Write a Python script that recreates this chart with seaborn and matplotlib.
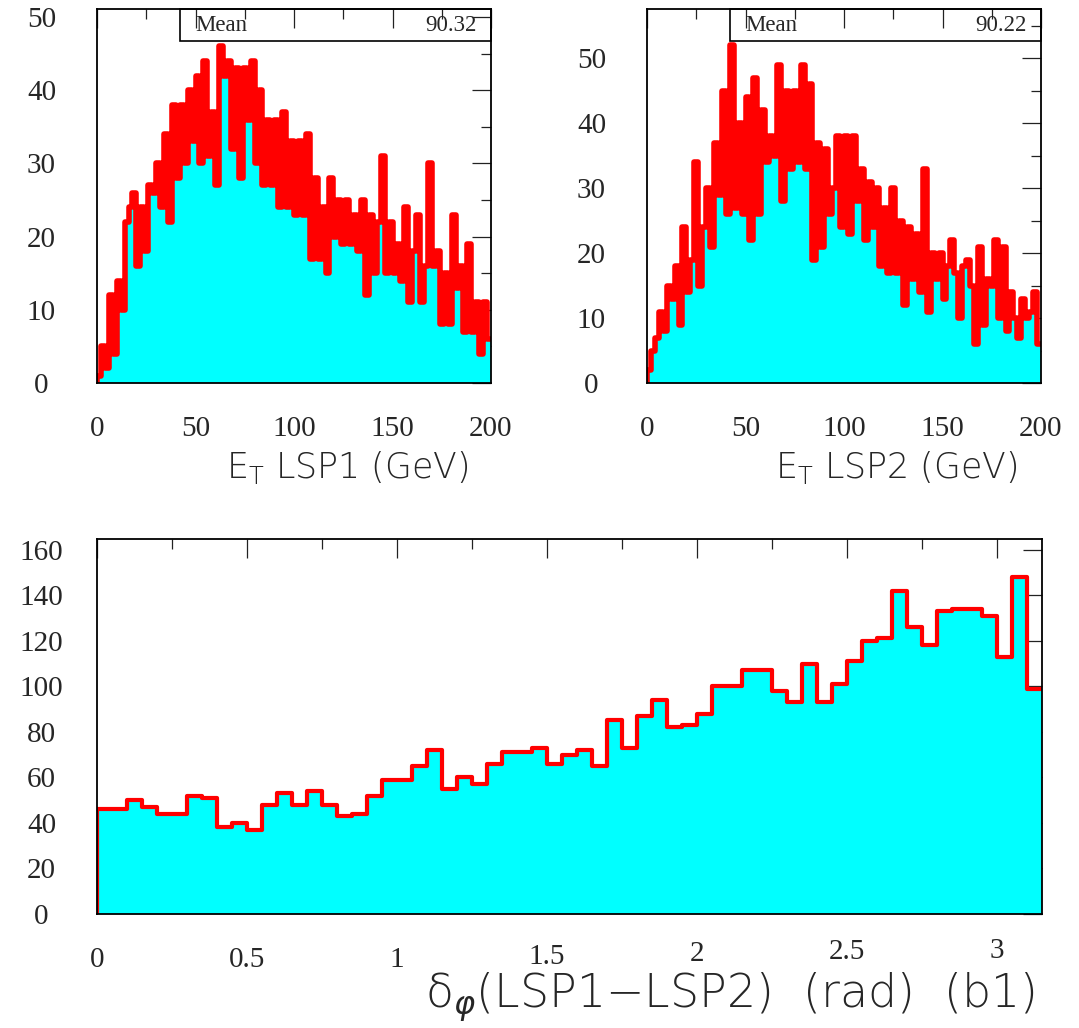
import matplotlib
matplotlib.use('Agg')
import matplotlib.pyplot as plt
import seaborn as sns
import numpy as np
import pandas as pd
from matplotlib.patches import Rectangle
from matplotlib.ticker import MultipleLocator

# counts per 2 GeV bin, 0-200 GeV
et_lsp1 = [1, 5, 2, 12, 4, 14, 10, 22, 24, 26,
           16, 24, 18, 27, 26, 30, 24, 34, 22, 38,
           28, 38, 30, 40, 33, 42, 30, 44, 31, 37,
           27, 46, 42, 44, 32, 43, 28, 43, 36, 44,
           30, 40, 27, 36, 27, 36, 24, 37, 24, 33,
           23, 33, 23, 34, 17, 28, 17, 24, 15, 28,
           20, 25, 19, 25, 19, 23, 18, 25, 12, 23,
           15, 22, 31, 15, 22, 15, 19, 14, 24, 11,
           18, 23, 11, 16, 30, 16, 18, 8, 15, 8,
           23, 13, 16, 7, 19, 7, 11, 4, 11, 6]
et_lsp2 = [2, 5, 7, 11, 8, 15, 13, 18, 9, 24,
           14, 19, 34, 15, 24, 30, 21, 37, 29, 45,
           26, 52, 27, 40, 26, 44, 22, 47, 26, 42,
           34, 38, 35, 49, 28, 45, 33, 45, 34, 49,
           33, 46, 19, 37, 21, 36, 26, 30, 38, 24,
           38, 23, 38, 28, 33, 22, 31, 24, 30, 18,
           27, 17, 30, 17, 25, 12, 24, 16, 23, 14,
           33, 11, 20, 16, 20, 13, 18, 22, 17, 10,
           18, 19, 15, 6, 21, 9, 16, 15, 22, 10,
           21, 8, 14, 10, 7, 13, 10, 11, 14, 6]
mean_lsp1 = '90.32'
mean_lsp2 = '90.22'

# counts per 0.05 rad bin
dphi = [46, 46, 50, 47, 44, 44, 52, 51, 38, 40, 37, 48, 53, 48, 54, 48, 43, 44, 52,
        59, 59, 65, 72, 55, 60, 57, 66, 71, 71, 73, 66, 70, 72, 65, 85, 73, 87, 94,
        82, 83, 88, 100, 100, 107, 107, 98, 93, 110, 93, 101, 111, 120, 121, 142,
        126, 118, 133, 134, 134, 131, 113, 148, 99]
dphi_ticks = [0, 0.5, 1, 1.5, 2, 2.5, 3]
dphi_ticklabels = ['0', '0.5', '1', '1.5', '2', '2.5', '3']

et_edges = list(np.linspace(0, 200, len(et_lsp1) + 1))
dphi_edges = list(np.linspace(0, 3.15, len(dphi) + 1))

sns.set_style('white')
serif = ['Liberation Serif', 'DejaVu Serif']
plt.rcParams['font.family'] = serif
plt.rcParams['mathtext.fontset'] = 'dejavusans'

fig = plt.figure(figsize=(10.79, 10.28), dpi=100)
W, H = 1079, 1028


def px_axes(x0, y0, x1, y1):
    return fig.add_axes([x0 / W, 1 - y1 / H, (x1 - x0) / W, (y1 - y0) / H])


def draw_hist(ax, counts, edges, lw):
    centers = [(a + b) / 2 for a, b in zip(edges[:-1], edges[1:])]
    df = pd.DataFrame({'x': centers, 'n': counts})
    sns.histplot(data=df, x='x', weights='n', bins=edges, element='step', fill=True,
                 color='#00ffff', alpha=1, linewidth=0, ax=ax)
    sns.histplot(data=df, x='x', weights='n', bins=edges, element='step', fill=False,
                 color='#ff0000', linewidth=lw, ax=ax)
    # outline rises from zero at the first edge, as in the original
    ax.plot([edges[0], edges[0]], [0, counts[0]], color='#ff0000', linewidth=lw)
    ax.set_xlabel('')
    ax.set_ylabel('')


def style(ax, xlim, ylim, xmaj, xmin, ymaj, ymin):
    ax.set_xlim(*xlim)
    ax.set_ylim(*ylim)
    ax.xaxis.set_major_locator(MultipleLocator(xmaj))
    ax.xaxis.set_minor_locator(MultipleLocator(xmin))
    ax.yaxis.set_major_locator(MultipleLocator(ymaj))
    ax.yaxis.set_minor_locator(MultipleLocator(ymin))
    ax.tick_params(which='both', direction='in', top=True, right=True, color='#222222', width=0.9)
    ax.tick_params(which='major', length=13.5)
    ax.tick_params(which='minor', length=7)
    ax.tick_params(axis='x', pad=24, labelsize=21)
    ax.tick_params(axis='y', pad=40, labelsize=21)
    for s in ax.spines.values():
        s.set_color('black')
        s.set_linewidth(1.3)
        s.set_zorder(5)
    plt.setp(ax.get_yticklabels(), ha='center')


def mean_box(ax, value):
    ax.add_patch(Rectangle((0.21, 0.914), 0.79, 0.086, transform=ax.transAxes,
                           fill=False, edgecolor='black', linewidth=1.2, zorder=6, clip_on=False))
    ax.text(0.25, 0.955, 'Mean', transform=ax.transAxes, ha='left', va='center', fontsize=16.5)
    ax.text(0.963, 0.955, value, transform=ax.transAxes, ha='right', va='center', fontsize=16.5)


ax1 = px_axes(97, 9, 491, 383)
draw_hist(ax1, et_lsp1, et_edges, 4)
style(ax1, (0, 200), (0, 51.1), 50, 25, 10, 5)
mean_box(ax1, mean_lsp1)

ax2 = px_axes(647, 9, 1041, 383)
draw_hist(ax2, et_lsp2, et_edges, 4)
style(ax2, (0, 200), (0, 57.6), 50, 25, 10, 5)
mean_box(ax2, mean_lsp2)

ax3 = px_axes(97, 539, 1042, 914)
draw_hist(ax3, dphi, dphi_edges, 3)
style(ax3, (0, 3.15), (0, 164.7), 0.5, 0.25, 20, 20)
ax3.set_xticks(dphi_ticks, dphi_ticklabels)
# the later labels sit a little higher in the original
raise_px = [0, 0, 0, 3, 6, 8, 9]
for tick, r in zip(ax3.xaxis.get_major_ticks(), raise_px):
    tick.set_pad(24 - r * 0.72)

title_font = dict(fontweight='light', family=['DejaVu Sans'])
fig.text(468 / W, 1 - 468 / H, 'E$_\\mathregular{T}$ LSP1 (GeV)', ha='right', va='center',
         fontsize=25, **title_font)
fig.text(1017 / W, 1 - 468 / H, 'E$_\\mathregular{T}$ LSP2 (GeV)', ha='right', va='center',
         fontsize=25, **title_font)
fig.text(1035 / W, 1 - 997 / H, '\u03b4$_{\\varphi}$(LSP1\u2212LSP2)  (rad)  (b1)', ha='right',
         va='center', fontsize=33, **title_font)

fig.savefig('out.png', dpi=100)
